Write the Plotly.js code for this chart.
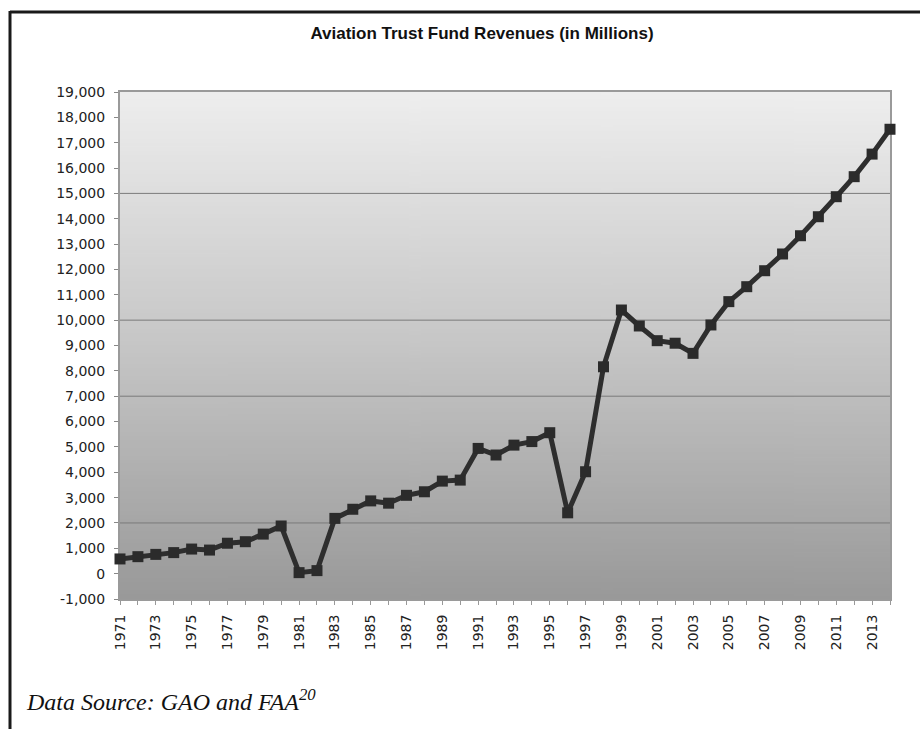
<!DOCTYPE html>
<html>
<head>
<meta charset="utf-8">
<script src="https://cdn.plot.ly/plotly-3.0.1.min.js"></script>
<style>
  html, body { margin: 0; padding: 0; background: #ffffff; }
  #chart { width: 920px; height: 729px; }
</style>
</head>
<body>
<div id="chart"></div>
<script>
// ---- data ----
const years = [1971,1972,1973,1974,1975,1976,1977,1978,1979,1980,
               1981,1982,1983,1984,1985,1986,1987,1988,1989,1990,
               1991,1992,1993,1994,1995,1996,1997,1998,1999,2000,
               2001,2002,2003,2004,2005,2006,2007,2008,2009,2010,
               2011,2012,2013,2014];
const revenues = [580,670,760,830,970,930,1200,1260,1560,1880,
                  40,120,2180,2540,2870,2780,3090,3230,3650,3690,
                  4940,4680,5070,5210,5560,2400,4020,8160,10400,9770,
                  9190,9090,8690,9810,10730,11320,11950,12610,13330,14080,
                  14870,15660,16550,17530];
const xTickYears = [1971,1973,1975,1977,1979,1981,1983,1985,1987,1989,1991,
                    1993,1995,1997,1999,2001,2003,2005,2007,2009,2011,2013];
const yTickVals = [-1000,0,1000,2000,3000,4000,5000,6000,7000,8000,9000,10000,
                   11000,12000,13000,14000,15000,16000,17000,18000,19000];
const yTickText = ["-1,000","0","1,000","2,000","3,000","4,000","5,000","6,000","7,000",
                   "8,000","9,000","10,000","11,000","12,000","13,000","14,000","15,000",
                   "16,000","17,000","18,000","19,000"];
const gridVals = [2000,7000,10000,15000];
const titleText = "Aviation Trust Fund Revenues (in Millions)";
const sourceText = "<i>Data Source: GAO and FAA<sup>20</sup></i>";

// ---- background gradient for plot area ----
const cv = document.createElement('canvas');
cv.width = 4; cv.height = 256;
const ctx = cv.getContext('2d');
const g = ctx.createLinearGradient(0, 0, 0, 256);
g.addColorStop(0, '#eeeeee');
g.addColorStop(0.5, '#c6c6c6');
g.addColorStop(1, '#999999');
ctx.fillStyle = g;
ctx.fillRect(0, 0, 4, 256);
const bgURL = cv.toDataURL('image/png');

// layout geometry
const W = 920, H = 729;
const M = {l: 120, r: 30, t: 92, b: 130};
const pw = W - M.l - M.r, ph = H - M.t - M.b;
const px = x => (x - M.l) / pw;
const py = y => (H - M.b - y) / ph;

const shapes = gridVals.map(v => ({
  type: 'line', xref: 'paper', yref: 'y', x0: 0, x1: 1, y0: v, y1: v,
  line: {color: '#7a7a7a', width: 1}, layer: 'below'
}));
// outer page frame (top and left edges)
shapes.push({type: 'line', xref: 'paper', yref: 'paper',
  x0: px(10), x1: px(925), y0: py(12), y1: py(12),
  line: {color: '#1a1a1a', width: 3}});
shapes.push({type: 'line', xref: 'paper', yref: 'paper',
  x0: px(10), x1: px(10), y0: py(11), y1: py(735),
  line: {color: '#1a1a1a', width: 3}});

const trace = {
  x: years, y: revenues, type: 'scatter', mode: 'lines+markers',
  line: {color: '#2e2e2e', width: 5},
  marker: {symbol: 'square', size: 11, color: '#2b2b2b'},
  cliponaxis: false, hoverinfo: 'x+y'
};

const tickFont = {family: 'DejaVu Sans, Arial, sans-serif', size: 14, color: '#222'};

const layout = {
  width: W, height: H,
  margin: M,
  paper_bgcolor: '#ffffff',
  plot_bgcolor: 'rgba(0,0,0,0)',
  showlegend: false,
  title: {
    text: '<b>' + titleText + '</b>',
    font: {family: 'Liberation Sans, Arial, sans-serif', size: 17, color: '#111'},
    xref: 'container', x: 482 / W, xanchor: 'center',
    yref: 'container', y: 1 - 33 / H, yanchor: 'middle'
  },
  xaxis: {
    type: 'linear', range: [1971, 2014],
    tickvals: xTickYears, ticktext: xTickYears.map(String),
    tickangle: -90, tickfont: tickFont,
    ticks: 'outside', ticklen: 4, tickcolor: '#999',
    minor: {dtick: 1, tick0: 1971, ticks: 'outside', ticklen: 4, tickcolor: '#999', showgrid: false},
    ticklabelstandoff: 4,
    showgrid: false, zeroline: false,
    showline: true, linecolor: '#9a9a9a', linewidth: 2, mirror: true,
    layer: 'below traces'
  },
  yaxis: {
    range: [-1000, 19000],
    tickvals: yTickVals, ticktext: yTickText,
    tickfont: tickFont,
    ticks: 'outside', ticklen: 4, tickcolor: '#888',
    ticklabelstandoff: 6,
    showgrid: false, zeroline: false,
    showline: true, linecolor: '#9a9a9a', linewidth: 2, mirror: true,
    layer: 'below traces'
  },
  images: [{
    source: bgURL, xref: 'paper', yref: 'paper',
    x: 0, y: 1, sizex: 1, sizey: 1, sizing: 'stretch',
    xanchor: 'left', yanchor: 'top', layer: 'below'
  }],
  shapes: shapes,
  annotations: [{
    text: sourceText, xref: 'paper', yref: 'paper',
    x: px(24), y: py(700), xanchor: 'left', yanchor: 'middle',
    showarrow: false,
    font: {family: 'Liberation Serif, Times New Roman, serif', size: 24, color: '#111'}
  }]
};

Plotly.newPlot('chart', [trace], layout, {displayModeBar: false, staticPlot: true});
</script>
</body>
</html>
